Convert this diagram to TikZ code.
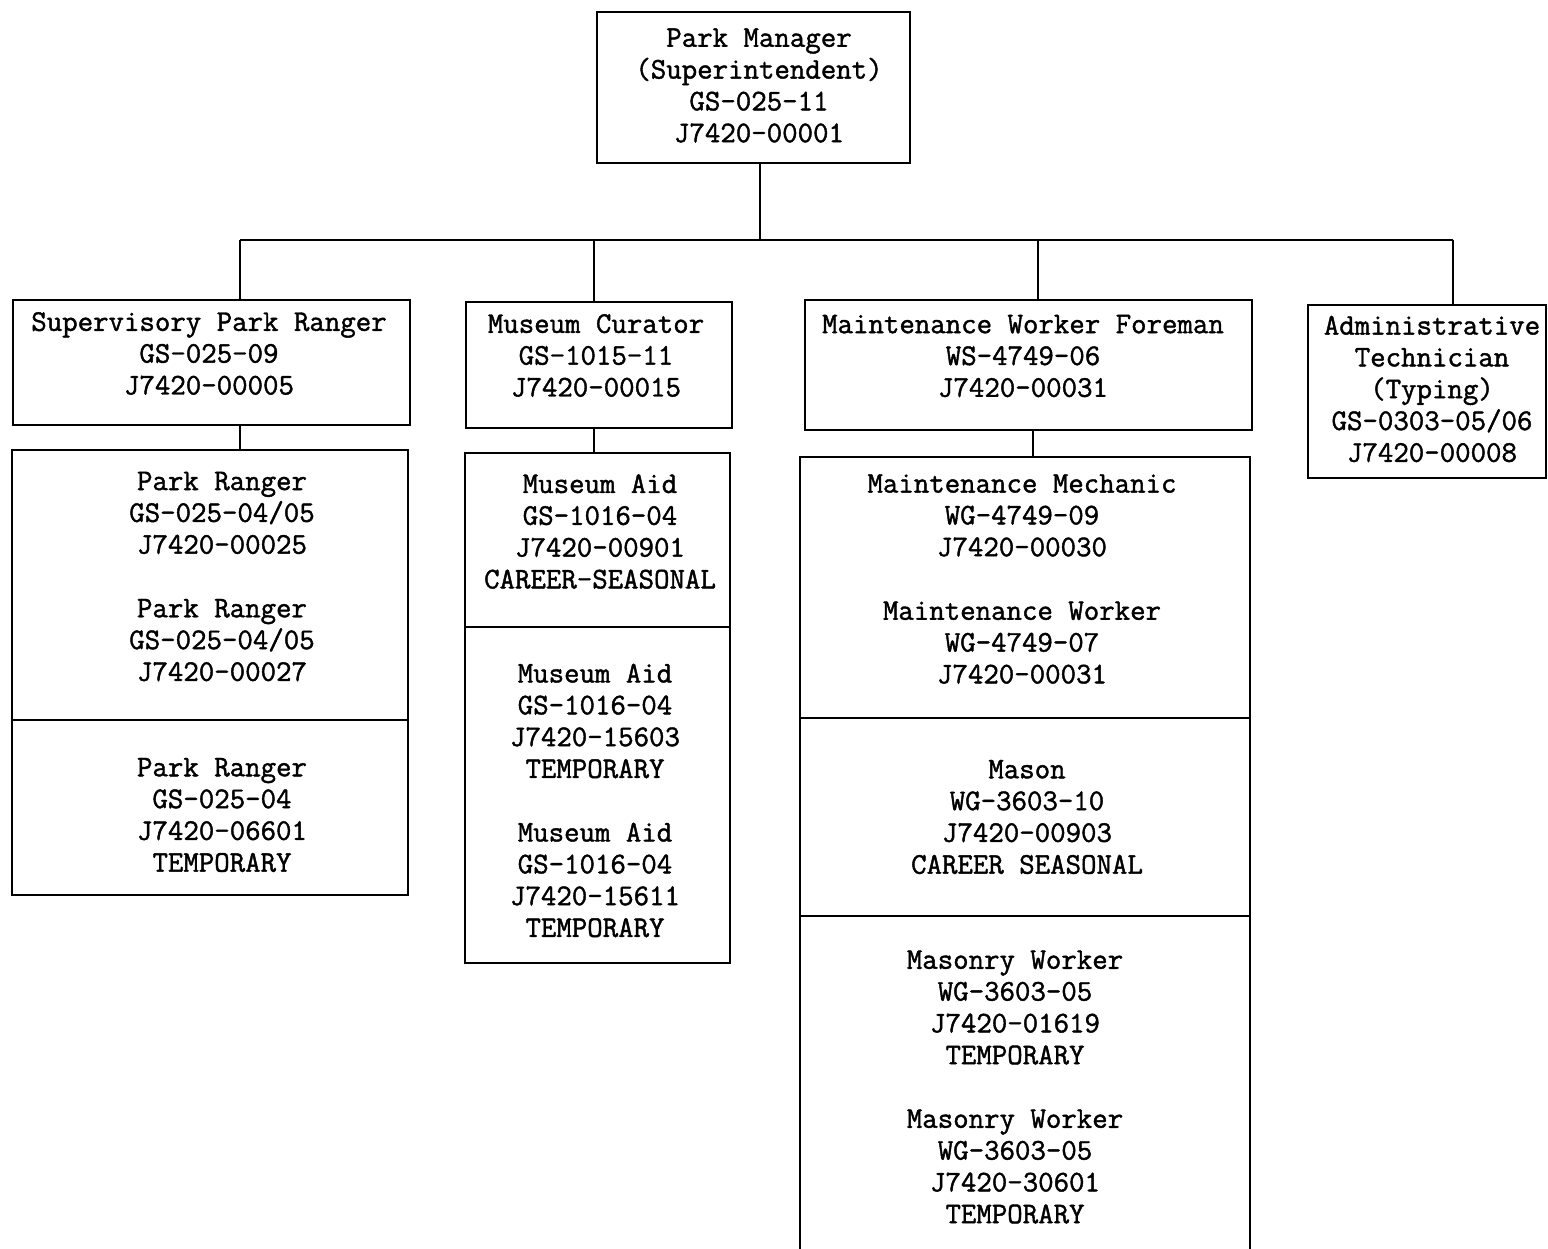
\documentclass[tikz,border=0pt]{standalone}
\usepackage{fontspec}
\newfontfamily\twfont[FakeBold=1.4]{Latin Modern Mono}
\begin{document}
\begin{tikzpicture}[x=1pt,y=-1pt,
  box/.style={draw, line width=2.4pt, inner sep=0pt, outer sep=0pt},
  txt/.style={align=center, inner sep=0pt, font=\twfont\fontsize{30}{31.8}\selectfont},
  conn/.style={line width=2.4pt}]
\useasboundingbox (0,0) rectangle (1548,1249);
\clip (0,0) rectangle (1548,1249);
\fill[white] (0,0) rectangle (1548,1249);
% boxes
\node[box, minimum width=313pt, minimum height=151pt] (pm) at (753.5,87.5) {};
\node[box, minimum width=397pt, minimum height=125pt] (sup) at (211.5,362.5) {};
\node[box, minimum width=266pt, minimum height=126pt] (mc) at (599,365) {};
\node[box, minimum width=447pt, minimum height=130pt] (mwf) at (1028.5,365) {};
\node[box, minimum width=238pt, minimum height=173pt] (adm) at (1427,391.5) {};
\node[box, minimum width=396pt, minimum height=270pt] (pr1) at (210,585) {};
\node[box, minimum width=396pt, minimum height=175pt] (pr2) at (210,807.5) {};
\node[box, minimum width=265pt, minimum height=174pt] (ma1) at (597.5,540) {};
\node[box, minimum width=265pt, minimum height=336pt] (ma2) at (597.5,795) {};
\node[box, minimum width=450pt, minimum height=261pt] (mm1) at (1025,587.5) {};
\node[box, minimum width=450pt, minimum height=198pt] (mm2) at (1025,817) {};
\node[box, minimum width=450pt, minimum height=344pt] (mm3) at (1025,1088) {};
% texts
\node[txt] (tpm) at (759,85.5) {Park Manager\\(Superintendent)\\GS-025-11\\J7420-00001};
\node[txt] (tsup) at (209,353.5) {Supervisory Park Ranger\\GS-025-09\\J7420-00005};
\node[txt] (tmc) at (596,355.5) {Museum Curator\\GS-1015-11\\J7420-00015};
\node[txt] (tmwf) at (1023,356) {Maintenance Worker Foreman\\WS-4749-06\\J7420-00031};
\node[txt] (tadm) at (1432,389) {Administrative\\Technician\\(Typing)\\GS-0303-05/06\\J7420-00008};
\node[txt] (tpr1) at (222,576.5) {Park Ranger\\GS-025-04/05\\J7420-00025\\[31.8pt]Park Ranger\\GS-025-04/05\\J7420-00027};
\node[txt] (tpr2) at (222,815) {Park Ranger\\GS-025-04\\J7420-06601\\TEMPORARY};
\node[txt] (tma1) at (600,531.5) {Museum Aid\\GS-1016-04\\J7420-00901\\CAREER-SEASONAL};
\node[txt] (tma2) at (595,800.5) {Museum Aid\\GS-1016-04\\J7420-15603\\TEMPORARY\\[31.8pt]Museum Aid\\GS-1016-04\\J7420-15611\\TEMPORARY};
\node[txt] (tmm1) at (1022,579) {Maintenance Mechanic\\WG-4749-09\\J7420-00030\\[31.8pt]Maintenance Worker\\WG-4749-07\\J7420-00031};
\node[txt] (tmm2) at (1027,817) {Mason\\WG-3603-10\\J7420-00903\\CAREER SEASONAL};
\node[txt] (tmm3) at (1015,1087) {Masonry Worker\\WG-3603-05\\J7420-01619\\TEMPORARY\\[31.8pt]Masonry Worker\\WG-3603-05\\J7420-30601\\TEMPORARY};
% connectors
\coordinate (bus) at (760,240);
\coordinate (b1) at (240,240);
\coordinate (b2) at (594,240);
\coordinate (b3) at (1038,240);
\coordinate (b4) at (1453,240);
\coordinate (d3) at (1033,240);
\draw[conn] (bus |- pm.south) -- (bus);
\draw[conn] (b1) -- (b4);
\draw[conn] (b1) -- (b1 |- sup.north);
\draw[conn] (b2) -- (b2 |- mc.north);
\draw[conn] (b3) -- (b3 |- mwf.north);
\draw[conn] (b4) -- (b4 |- adm.north);
\draw[conn] (b1 |- sup.south) -- (b1 |- pr1.north);
\draw[conn] (b2 |- mc.south) -- (b2 |- ma1.north);
\draw[conn] (d3 |- mwf.south) -- (d3 |- mm1.north);
\end{tikzpicture}
\end{document}
